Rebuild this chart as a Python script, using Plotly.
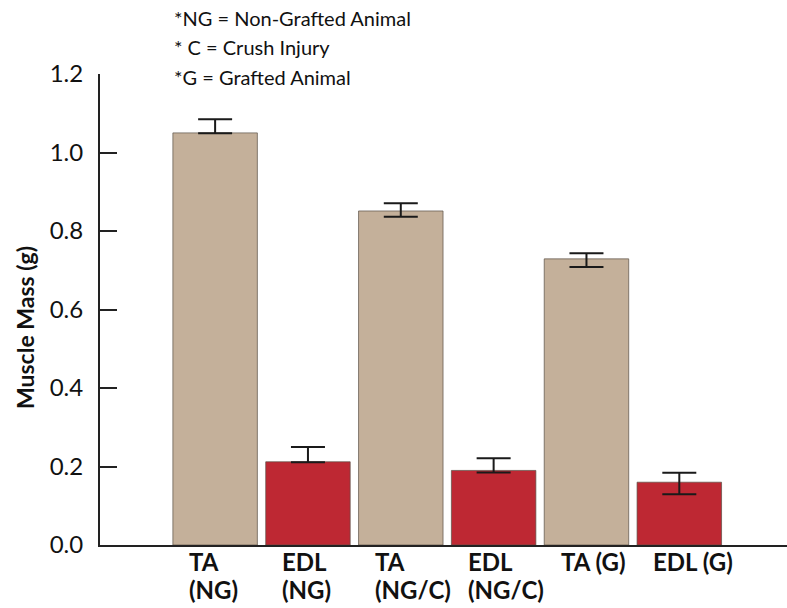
import plotly.graph_objects as go

label_line1 = ["TA", "EDL", "TA", "EDL", "TA (G)", "EDL (G)"]
label_line2 = ["(NG)", "(NG)", "(NG/C)", "(NG/C)", "", ""]
muscle_mass = [1.05, 0.212, 0.851, 0.190, 0.729, 0.160]
err_plus = [0.035, 0.038, 0.020, 0.031, 0.014, 0.024]
err_minus = [0.001, 0.001, 0.015, 0.005, 0.021, 0.031]
bar_colors = ["#c4b09a", "#be2833", "#c4b09a", "#be2833", "#c4b09a", "#be2833"]
y_ticks = [0.0, 0.2, 0.4, 0.6, 0.8, 1.0, 1.2]
y_title = "Muscle Mass (g)"
legend_lines = ["*NG = Non-Grafted Animal", "* C = Crush Injury", "*G = Grafted Animal"]

FONT = "Lato"
xs = list(range(len(label_line1)))

fig = go.Figure()
fig.add_trace(go.Bar(
    x=xs, y=muscle_mass,
    marker=dict(color=bar_colors, line=dict(color="rgba(90,80,70,0.7)", width=1)),
    error_y=dict(type="data", symmetric=False, array=err_plus, arrayminus=err_minus,
                 color="#1a1a1a", thickness=2, width=17),
    width=0.91,
))

annotations = []
lab_font = dict(family=FONT, size=24, color="#111", weight="bold")
for i in xs:
    for text, yy in ((label_line1[i], -0.036), (label_line2[i], -0.0955)):
        if text:
            annotations.append(dict(
                x=i - 0.30, y=yy, xref="x", yref="paper", text=text, showarrow=False,
                xanchor="left", yanchor="middle", font=lab_font,
            ))
for j, line in enumerate(legend_lines):
    annotations.append(dict(
        x=0.105, y=1.119 - j * 0.0625, xref="paper", yref="paper", text=line,
        showarrow=False, xanchor="left", yanchor="middle",
        font=dict(family=FONT, size=20, color="#111"),
    ))
annotations.append(dict(
    x=-0.109, y=0.461, xref="paper", yref="paper", text=y_title, showarrow=False,
    textangle=-90, xanchor="center", yanchor="middle",
    font=dict(family=FONT, size=23, color="#111", weight="bold"),
))

fig.update_layout(
    width=787, height=608,
    margin=dict(l=100, r=0, t=74, b=63),
    paper_bgcolor="white", plot_bgcolor="white",
    showlegend=False,
    xaxis=dict(range=[-1.24, 6.16], showticklabels=False, ticks="", showgrid=False,
               zeroline=False, showline=True, linecolor="#222", linewidth=2),
    yaxis=dict(range=[0, 1.2], tickvals=y_ticks, tickformat=".1f", ticks="inside",
               ticklen=17, tickwidth=2, tickcolor="#222", showgrid=False, zeroline=False,
               showline=True, linecolor="#222", linewidth=2, ticklabelstandoff=10,
               tickfont=dict(family=FONT, size=24, color="#111")),
    annotations=annotations,
)

fig.write_html("out.html")
